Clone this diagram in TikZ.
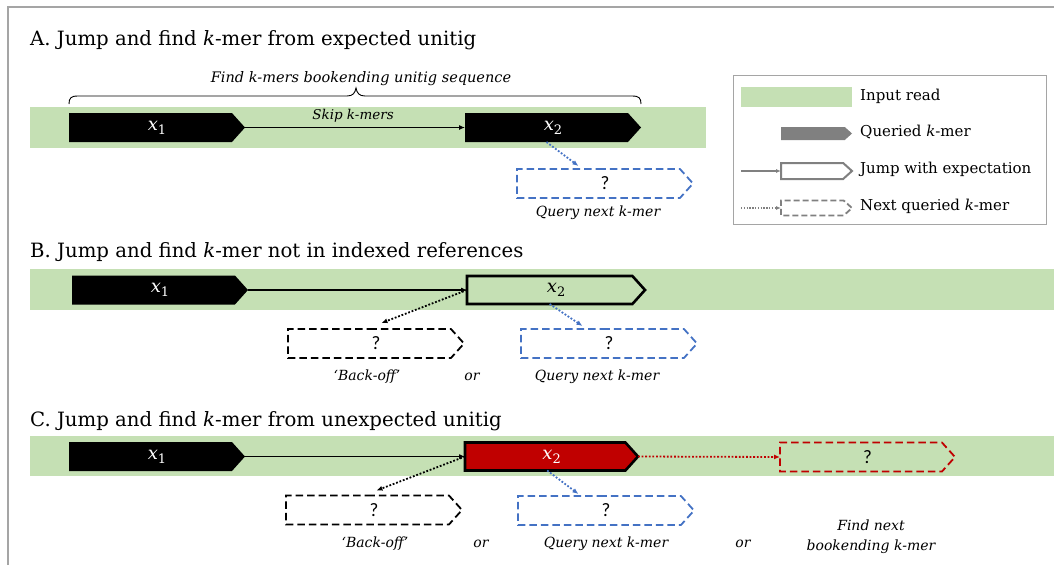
\documentclass[tikz,border=0pt]{standalone}
\usepackage{fontspec}
\setmainfont{DejaVu Serif}
\newfontfamily\qfont{Carlito}
\usetikzlibrary{shapes.symbols,arrows.meta}
\definecolor{readgreen}{RGB}{197,224,180}
\definecolor{qblue}{RGB}{68,114,196}
\definecolor{qred}{RGB}{192,0,0}
\definecolor{lgray}{RGB}{128,128,128}
\definecolor{framegray}{RGB}{165,165,165}
\newcommand\xlab[1]{{\fontsize{18}{18}\selectfont\itshape x}\raisebox{-4pt}{\fontsize{13}{13}\selectfont #1}}
\begin{document}
\begin{tikzpicture}[x=1pt,y=-1pt,
  kmer/.style={signal, signal to=east, signal pointer angle=96, minimum height=29, minimum width=176,
    inner sep=0pt, outer sep=0pt, anchor=west, font=\fontsize{17}{17}\selectfont,
    execute at begin node=\hspace{13pt}},
  solidk/.style={kmer, fill=black, text=white},
  expk/.style={kmer, draw=black, line width=2.6pt},
  nextk/.style={kmer, fill=white, line width=1.8pt, dash pattern=on 7.5pt off 4pt, font=\qfont\fontsize{19}{19}\selectfont},
  bar/.style={fill=readgreen, draw=none, inner sep=0pt},
  title/.style={anchor=base west, inner sep=0pt, font=\fontsize{19.7}{20}\selectfont},
  lbl/.style={inner sep=0pt, font=\itshape\fontsize{14}{20}\selectfont},
  leg/.style={anchor=west, inner sep=0pt, font=\fontsize{15}{15}\selectfont},
  jump/.style={line width=1.1pt, -{Latex[length=6pt,width=5pt]}},
  dotarr/.style={line width=1.8pt, dash pattern=on 1.8pt off 1.8pt, -{Latex[length=6pt,width=5pt]}},
]
\useasboundingbox (0,0) rectangle (1054,565);
\draw[framegray, line width=1.2pt] (8,565) -- (8,7) -- (1054,7);

% ---------- A ----------
\node[title] (ta) at (30,45) {A. Jump and find \textit{k}-mer from expected unitig};
\node[lbl, font=\itshape\fontsize{14.5}{14.5}\selectfont] (fa) at (361,79) {Find k-mers bookending unitig sequence};
\draw[line width=0.9pt] (69,104) .. controls (69,98) and (71,96) .. (78,96) -- (347,96)
  .. controls (353,96) and (355,93) .. (356,88) .. controls (357,93) and (359,96) .. (365,96)
  -- (632,96) .. controls (639,96) and (641,98) .. (641,104);
\node[bar, minimum width=676, minimum height=41] (ra) at (368,127.5) {};
\node[solidk] (a1) at (69,127.5) {\xlab{1}};
\node[solidk] (a2) at (465,127.5) {\xlab{2}};
\draw[jump] (a1.east) -- (a2.west);
\node[lbl, font=\itshape\fontsize{13.5}{13.5}\selectfont] (sk) at (353,116) {Skip k-mers};
\node[nextk, draw=qblue] (qa) at (517,183.5) {?};
\draw[dotarr, qblue] (a2.south) -- ([shift={(-20,-3)}]qa.north);
\node[lbl] (qal) at (598,213) {Query next k-mer};

% ---------- legend ----------
\node[draw=framegray, line width=1pt, minimum width=313, minimum height=149, inner sep=0pt] (lg) at (889.5,149.5) {};
\node[fill=readgreen, minimum width=111, minimum height=20, inner sep=0pt] (l1) at (796.5,97) {};
\node[leg] (l1t) at (860,96) {Input read};
\node[kmer, fill=lgray, minimum width=71, minimum height=13, signal pointer angle=84] (l2) at (781,133.5) {};
\node[leg] (l2t) at (860,132) {Queried \textit{k}-mer};
\coordinate (l3s) at (741,171);
\node[kmer, draw=lgray, fill=white, line width=2pt, minimum width=71, minimum height=16, signal pointer angle=84] (l3) at (781,171) {};
\draw[lgray, line width=1.1pt, -{Latex[length=5pt,width=4pt]}] (l3s) -- (l3.west);
\node[leg] (l3t) at (860,169) {Jump with expectation};
\coordinate (l4s) at (741,208);
\node[kmer, draw=lgray, fill=white, line width=1.8pt, dash pattern=on 6pt off 3pt, minimum width=71, minimum height=15, signal pointer angle=84] (l4) at (781,208) {};
\draw[lgray, line width=1.3pt, dash pattern=on 1.4pt off 1.4pt, -{Latex[length=5pt,width=4pt]}] (l4s) -- (l4.west);
\node[leg] (l4t) at (860,206) {Next queried \textit{k}-mer};

% ---------- B ----------
\node[title] (tb) at (30,257) {B. Jump and find \textit{k}-mer not in indexed references};
\node[bar, minimum width=1024, minimum height=41] (rb) at (542,289.5) {};
\node[solidk] (b1) at (72,290) {\xlab{1}};
\node[expk, fill=readgreen, minimum width=178, minimum height=28] (b2) at (467,290) {\xlab{2}};
\draw[jump] (b1.east) -- (b2.west);
\node[nextk, draw=black] (bk) at (288,343.5) {?};
\node[nextk, draw=qblue] (bq) at (521,343.5) {?};
\draw[dotarr] (b2.west) -- ([shift={(12,-6)}]bk.north);
\draw[dotarr, qblue] (b2.south) -- ([shift={(-20,-3)}]bq.north);
\node[lbl] (bkl) at (367,377) {‘Back-off’};
\node[lbl] (bor) at (472,377) {or};
\node[lbl] (bql) at (597,377) {Query next k-mer};

% ---------- C ----------
\node[title] (tc) at (30,426) {C. Jump and find \textit{k}-mer from unexpected unitig};
\node[bar, minimum width=1024, minimum height=40] (rc) at (542,456) {};
\node[solidk] (c1) at (69,456.5) {\xlab{1}};
\node[expk, fill=qred, text=white, minimum width=173, minimum height=28] (c2) at (465,456.5) {\xlab{2}};
\draw[jump] (c1.east) -- (c2.west);
\node[nextk, draw=qred, fill=none, minimum width=175] (cn) at (780,457) {?};
\draw[dotarr, qred] (c2.east) -- (cn.west);
\node[nextk, draw=black] (ck) at (286,510) {?};
\node[nextk, draw=qblue] (cq) at (518,510.5) {?};
\draw[dotarr] (c2.west) -- ([shift={(9,-5)}]ck.north);
\draw[dotarr, qblue] ([xshift=2pt]c2.south) -- ([shift={(-21,-2)}]cq.north);
\node[lbl] (ckl) at (375,544) {‘Back-off’};
\node[lbl] (cor1) at (481,544) {or};
\node[lbl] (cql) at (606,544) {Query next k-mer};
\node[lbl] (cor2) at (743,544) {or};
\node[lbl, align=center] (cfl) at (871,537) {Find next\\bookending k-mer};
\end{tikzpicture}
\end{document}
